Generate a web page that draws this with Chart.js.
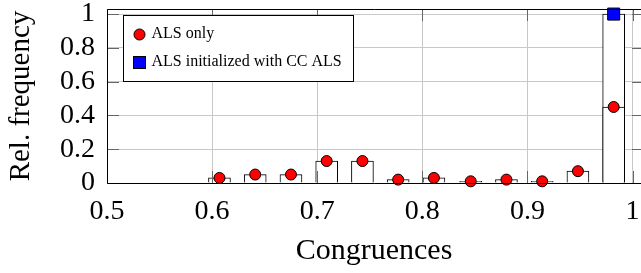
<!DOCTYPE html>
<html lang="en">
  <head>
    <meta charset="utf-8">
    <title>Congruences histogram</title>
    <style>
      html, body { margin: 0; padding: 0; background: #fff; }
      canvas { display: block; }
    </style>
  </head>
  <body>
    <canvas id="canvas" width="641" height="273"></canvas>
    <script src="https://cdn.jsdelivr.net/npm/chart.js"></script>
    <script>
      // bin centres and relative frequencies
      let binCentres = [0.607, 0.641, 0.675, 0.709, 0.743, 0.777, 0.811, 0.846, 0.880, 0.914, 0.948, 0.982];
      let alsOnly    = [0.03, 0.05, 0.05, 0.13, 0.13, 0.02, 0.03, 0.01, 0.02, 0.01, 0.07, 0.45];
      let ccAlsX     = [0.982];
      let ccAls      = [1.0];
      let xTicks     = [0.5, 0.6, 0.7, 0.8, 0.9, 1];
      let yTicks     = [0, 0.2, 0.4, 0.6, 0.8, 1];
      let legendLabels = ['ALS only', 'ALS initialized with CC ALS'];

      let serif = '"Liberation Serif", "DejaVu Serif", serif';
      let pts = (xs, ys) => xs.map((x, i) => ({x: x, y: ys[i]}));

      // frame, inner tick marks and the legend box inside the plot
      let framePlugin = {
        id: 'frame',
        afterDatasetsDraw(chart) {
          let a = chart.chartArea, ctx = chart.ctx;
          let sx = chart.scales.x, sy = chart.scales.y;
          ctx.save();
          ctx.lineWidth = 1;

          // inner ticks (pgfplots style)
          ctx.strokeStyle = '#666';
          ctx.beginPath();
          yTicks.forEach(v => {
            let py = Math.round(sy.getPixelForValue(v)) + 0.5;
            ctx.moveTo(a.left, py); ctx.lineTo(a.left + 12, py);
            ctx.moveTo(a.right + 3, py); ctx.lineTo(a.right - 9, py);
          });
          xTicks.forEach(v => {
            let px = Math.round(sx.getPixelForValue(v)) + 0.5;
            ctx.moveTo(px, a.top); ctx.lineTo(px, a.top + 12);
            ctx.moveTo(px, a.bottom); ctx.lineTo(px, a.bottom - 12);
          });
          ctx.stroke();

          ctx.strokeStyle = '#000';
          ctx.beginPath();
          ctx.moveTo(a.right, a.top + 0.5);
          ctx.lineTo(a.left + 0.5, a.top + 0.5);
          ctx.lineTo(a.left + 0.5, a.bottom + 0.5);
          ctx.lineTo(a.right, a.bottom + 0.5);
          ctx.stroke();

          let bx = a.left + 16.5, by = a.top + 6.5, bw = 230, bh = 66;
          ctx.fillStyle = '#fff';
          ctx.fillRect(bx, by, bw, bh);
          ctx.strokeRect(bx, by, bw, bh);

          ctx.font = '16px ' + serif;
          ctx.textBaseline = 'middle';
          ctx.textAlign = 'left';
          // circle
          ctx.beginPath();
          ctx.arc(bx + 16, by + 19, 5.5, 0, Math.PI * 2);
          ctx.fillStyle = '#ff0000';
          ctx.fill();
          ctx.stroke();
          ctx.fillStyle = '#000';
          ctx.fillText(legendLabels[0], bx + 28, by + 18);
          // square
          ctx.fillStyle = '#0000ff';
          ctx.fillRect(bx + 10, by + 41, 12, 12);
          ctx.strokeRect(bx + 10, by + 41, 12, 12);
          ctx.fillStyle = '#000';
          ctx.fillText(legendLabels[1], bx + 28, by + 46);
          ctx.restore();
        }
      };

      let options = {
        data: {
          datasets: [
            {
              type: 'bar', label: 'cc bars', data: pts(ccAlsX, ccAls),
              backgroundColor: '#fff', borderColor: '#000', borderWidth: 1,
              barThickness: 22, grouped: false, order: 4
            },
            {
              type: 'bar', label: 'als bars', data: pts(binCentres, alsOnly),
              backgroundColor: '#fff', borderColor: '#000', borderWidth: 1,
              barThickness: 22, grouped: false, order: 3
            },
            {
              type: 'scatter', label: legendLabels[0], data: pts(binCentres, alsOnly),
              pointStyle: 'circle', pointRadius: 5.5, backgroundColor: '#ff0000',
              borderColor: '#000', borderWidth: 1, order: 1, clip: false
            },
            {
              type: 'scatter', label: legendLabels[1], data: pts(ccAlsX, ccAls),
              pointStyle: 'rect', pointRadius: 8.5, backgroundColor: '#0000ff',
              borderColor: '#000', borderWidth: 1, order: 0, clip: false
            }
          ]
        },
        options: {
          responsive: false,
          animation: false,
          devicePixelRatio: 1,
          layout: { autoPadding: false, padding: { top: 9, left: 0, right: 0, bottom: 0 } },
          plugins: { legend: { display: false }, tooltip: { enabled: false } },
          scales: {
            x: {
              type: 'linear', min: 0.5, max: 1.008, offset: false,
              afterBuildTicks: s => { s.ticks = xTicks.map(v => ({value: v})); },
              afterFit: s => { s.height = 90; s.paddingLeft = 0; s.paddingRight = 0; },
              grid: { color: '#c8c8c8', drawTicks: true, tickLength: 12, tickColor: 'rgba(0,0,0,0)', offset: false },
              border: { display: false },
              ticks: {
                autoSkip: false, maxRotation: 0, padding: 0, color: '#000',
                font: { family: serif, size: 28 },
                callback: v => String(+v.toFixed(2))
              },
              title: {
                display: true, text: 'Congruences', color: '#000',
                font: { family: serif, size: 30 }, padding: { top: 4 }
              }
            },
            y: {
              type: 'linear', min: 0, max: 1.03,
              afterBuildTicks: s => { s.ticks = yTicks.map(v => ({value: v})); },
              afterFit: s => { s.width = 107; s.paddingTop = 0; s.paddingBottom = 0; },
              grid: { color: '#c8c8c8', drawTicks: false },
              border: { display: false },
              ticks: {
                autoSkip: false, padding: 12, color: '#000',
                font: { family: serif, size: 28 },
                callback: v => String(+v.toFixed(2))
              },
              title: {
                display: true, text: 'Rel. frequency', color: '#000',
                font: { family: serif, size: 29 }, padding: { bottom: 0 }
              }
            }
          }
        },
        plugins: [framePlugin]
      };

      let chart = new Chart(document.getElementById('canvas'), options);
    </script>
  </body>
</html>
